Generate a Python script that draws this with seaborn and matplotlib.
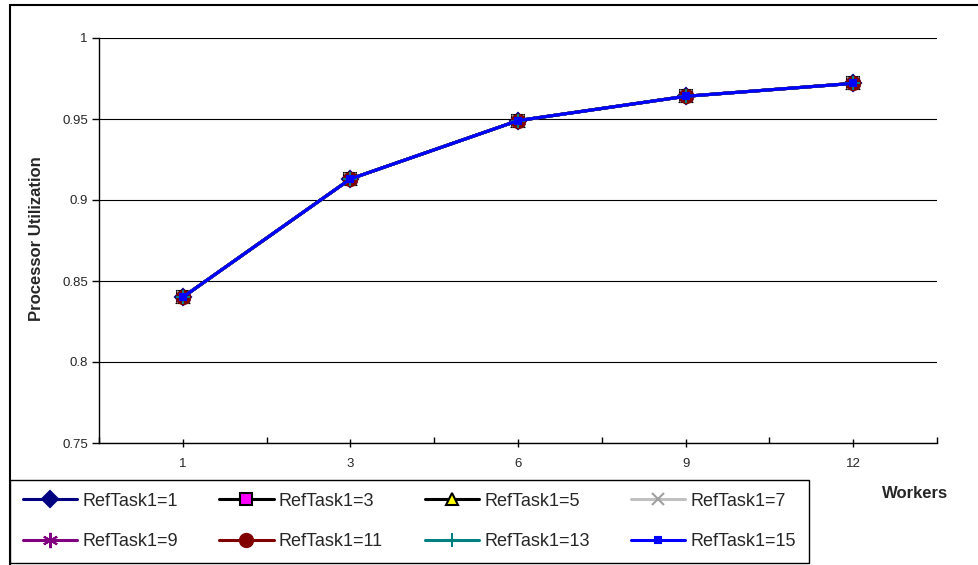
import matplotlib
matplotlib.use("Agg")
import matplotlib.pyplot as plt
from matplotlib.patches import Rectangle
import pandas as pd
import seaborn as sns

# Chart data
workers = ["1", "3", "6", "9", "12"]
ref_tasks = [1, 3, 5, 7, 9, 11, 13, 15]
utilization = [0.840, 0.913, 0.949, 0.964, 0.972]
y_ticks = [0.75, 0.80, 0.85, 0.90, 0.95, 1.00]
y_tick_labels = ["0.75", "0.8", "0.85", "0.9", "0.95", "1"]

# Line / marker styling for each series
styles = {
    1:  dict(color="#000080", marker="D", mfc="#000080", mec="#000080", ms=8),
    3:  dict(color="#000000", marker="s", mfc="#FF00FF", mec="#000000", ms=8),
    5:  dict(color="#000000", marker="^", mfc="#FFFF00", mec="#000000", ms=8),
    7:  dict(color="#C0C0C0", marker="x", mfc="#A0A0A0", mec="#A0A0A0", ms=9),
    9:  dict(color="#800080", marker=(6, 2, 0), mfc="#800080", mec="#800080", ms=11),
    11: dict(color="#800000", marker="o", mfc="#800000", mec="#800000", ms=9.5),
    13: dict(color="#008080", marker="+", mfc="#008080", mec="#008080", ms=10),
    15: dict(color="#0000FF", marker="s", mfc="#0000FF", mec="#0000FF", ms=4),
}

sns.set_theme(style="white")
plt.rcParams["font.family"] = ["Liberation Sans", "DejaVu Sans"]

W, H = 979, 565
fig = plt.figure(figsize=(W / 100, H / 100), dpi=100)
ax = fig.add_axes([99 / W, 1 - 443 / H, 838 / W, 405 / H])

for rt in ref_tasks:
    df = pd.DataFrame({"Workers": workers, "Utilization": utilization})
    st = styles[rt]
    sns.lineplot(
        data=df, x="Workers", y="Utilization", ax=ax, sort=False,
        color=st["color"], lw=2.2, marker=st["marker"],
        markerfacecolor=st["mfc"], markeredgecolor=st["mec"],
        markeredgewidth=1.5, markersize=st["ms"],
        label=f"RefTask1={rt}", legend=False,
    )

ax.set_xlim(-0.5, len(workers) - 0.5)
ax.set_ylim(0.75, 1.0)
ax.set_yticks(y_ticks)
ax.set_yticklabels(y_tick_labels)
ax.set_xlabel("")
ax.set_ylabel("")
ax.yaxis.grid(True, color="black", lw=0.8)
ax.set_axisbelow(True)
for s in ["top", "right"]:
    ax.spines[s].set_visible(False)
for s in ["left", "bottom"]:
    ax.spines[s].set_color("black")
    ax.spines[s].set_linewidth(1.0)

ax.set_xticks(range(len(workers)))
ax.set_xticks([i + 0.5 for i in range(-1, len(workers))], minor=True)
ax.tick_params(axis="x", which="major", direction="inout", length=6, width=1,
               color="black", labelsize=9.5, pad=8, bottom=True)
ax.tick_params(axis="x", which="minor", direction="in", length=4, width=1,
               color="black", bottom=True)
ax.tick_params(axis="y", which="major", direction="out", length=5, width=1,
               color="black", labelsize=9.5, left=True, pad=3)

# Axis titles
fig.text(915 / W, 1 - 494 / H, "Workers", ha="center", va="center",
         fontsize=12, fontweight="bold")
fig.text(37 / W, 1 - 239 / H, "Processor Utilization", ha="center",
         va="center", rotation=90, fontsize=12, fontweight="bold")

# Legend along the bottom, filled row by row
h, l = ax.get_legend_handles_labels()
ncol = 4
order = [r * ncol + c for c in range(ncol) for r in range(len(h) // ncol)]
leg = fig.legend(
    [h[i] for i in order], [l[i] for i in order], loc="upper left",
    bbox_to_anchor=(10 / W, 1 - 480 / H), ncol=ncol, fontsize=13,
    frameon=True, fancybox=False, edgecolor="black", framealpha=1,
    handlelength=3.0, handletextpad=0.3, columnspacing=2.3,
    labelspacing=1.3, borderpad=0.7, borderaxespad=0,
)
leg.get_frame().set_linewidth(1.0)

# Outer chart-area border
fig.patches.append(Rectangle((10 / W, -0.2), 1.2, 1 - 5 / H + 0.2,
                             transform=fig.transFigure, fill=False,
                             edgecolor="black", lw=1.5, zorder=0))

fig.savefig("out.png", dpi=100)
